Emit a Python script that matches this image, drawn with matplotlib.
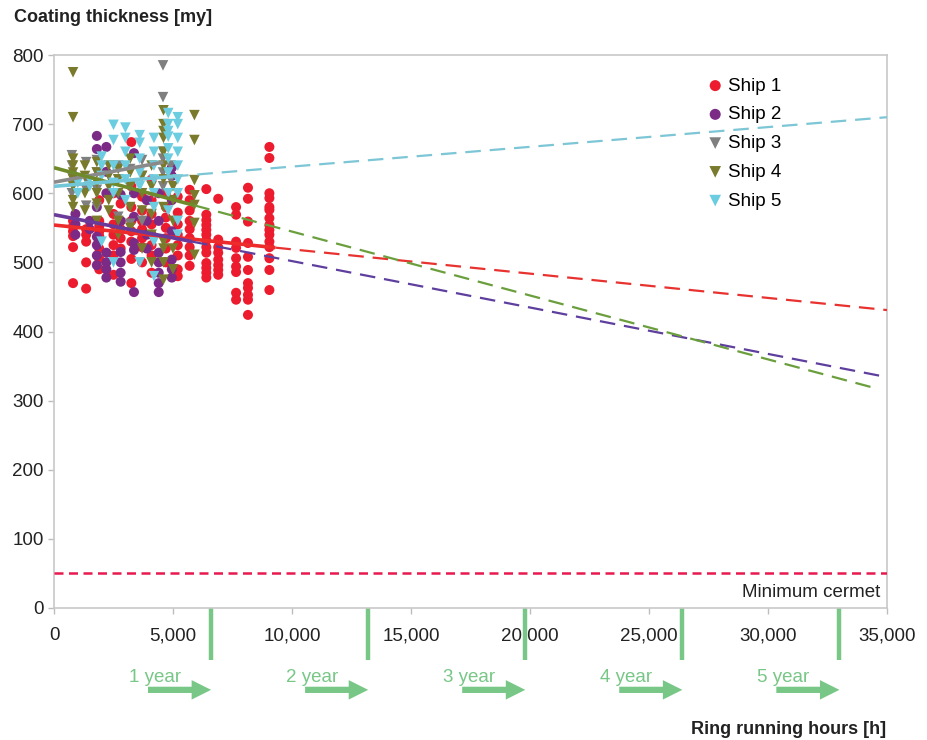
import numpy as np
import matplotlib
matplotlib.use("Agg")
import matplotlib.pyplot as plt
import matplotlib.transforms as mtransforms
from matplotlib.ticker import FuncFormatter

plt.rcParams['font.family'] = ['Liberation Sans', 'DejaVu Sans']

# ---- data ----
ship1_hours = ([800] * 6 + [1350] * 5 + [1900] * 8 + [2500] * 7 + [2800] * 5
               + [3250] * 8 + [3700] * 7 + [4100] * 8 + [4700] * 7 + [5200] * 8
               + [5700] * 9 + [6400] * 13 + [6900] * 8 + [7650] * 9 + [8150] * 11
               + [9050] * 15)
ship1_thick = ([560, 552, 545, 538, 522, 470]
               + [548, 540, 530, 500, 462]
               + [590, 560, 552, 545, 538, 520, 505, 490]
               + [600, 570, 555, 540, 525, 510, 482]
               + [585, 560, 548, 535, 520]
               + [674, 610, 580, 560, 545, 530, 505, 470]
               + [595, 575, 560, 548, 535, 522, 500]
               + [620, 590, 570, 555, 540, 525, 510, 485]
               + [600, 580, 565, 550, 535, 520, 500]
               + [595, 572, 555, 540, 525, 510, 490, 480]
               + [605, 590, 575, 560, 548, 535, 522, 510, 495]
               + [606, 569, 561, 554, 547, 540, 532, 522, 514, 499, 492, 485, 478]
               + [592, 533, 522, 514, 504, 496, 489, 482]
               + [580, 569, 530, 521, 506, 494, 486, 456, 446]
               + [608, 592, 559, 528, 508, 489, 470, 463, 453, 446, 424]
               + [667, 651, 600, 593, 580, 576, 564, 554, 547, 540, 530, 522, 506, 489, 460])

ship2_hours = ([900] * 3 + [1500] * 2 + [1800] * 7 + [2200] * 7 + [2800] * 6
               + [3360] * 6 + [3900] * 4 + [4400] * 7 + [4950] * 7)
ship2_thick = ([570, 555, 540]
               + [560, 548]
               + [683, 664, 580, 537, 525, 510, 496]
               + [667, 631, 600, 514, 500, 490, 478]
               + [598, 560, 515, 500, 485, 472]
               + [658, 600, 566, 528, 518, 457]
               + [590, 560, 540, 520]
               + [600, 560, 514, 500, 485, 470, 457]
               + [637, 625, 590, 545, 504, 490, 478])

ship3_hours = ([750] * 4 + [1350] * 4 + [1800] * 4 + [2700] * 3 + [3200] * 3
               + [3700] * 3 + [4580] * 6 + [4900] * 2)
ship3_thick = ([655, 640, 624, 600]
               + [645, 620, 605, 582]
               + [648, 630, 605, 580]
               + [640, 620, 566]
               + [635, 610, 556]
               + [648, 625, 560]
               + [785, 739, 660, 650, 630, 610]
               + [640, 620])

ship4_hours = ([800] * 9 + [1300] * 4 + [1800] * 6 + [2300] * 5 + [2700] * 5
               + [3200] * 5 + [3700] * 4 + [4100] * 5 + [4600] * 12 + [5000] * 5
               + [5900] * 7)
ship4_thick = ([775, 710, 650, 640, 630, 620, 610, 590, 580]
               + [640, 625, 600, 575]
               + [645, 630, 615, 600, 585, 560]
               + [640, 625, 610, 590, 575]
               + [635, 620, 600, 560, 540]
               + [650, 630, 610, 580, 550]
               + [625, 600, 575, 520]
               + [640, 610, 570, 540, 500]
               + [720, 700, 690, 680, 660, 640, 620, 580, 530, 520, 500, 475]
               + [610, 590, 560, 520, 490]
               + [713, 677, 619, 597, 583, 557, 511])

ship5_hours = ([1000] * 2 + [1500] * 2 + [2000] * 4 + [2500] * 6 + [3000] * 6
               + [3600] * 6 + [4200] * 8 + [4800] * 9 + [5200] * 9)
ship5_thick = ([615, 600]
               + [620, 610]
               + [653, 640, 625, 530]
               + [699, 677, 640, 615, 600, 500]
               + [695, 680, 660, 640, 620, 590]
               + [684, 673, 650, 630, 610, 500]
               + [680, 660, 640, 620, 600, 580, 530, 480]
               + [716, 700, 690, 682, 665, 650, 630, 600, 575]
               + [710, 700, 680, 660, 640, 620, 600, 560, 540])

# trend lines: value at 0 h, end of solid part, end of dashed part
trend_start = [554, 569, 616, 637, 610]
trend_solid_end = [9300, 5800, 4600, 5900, 5000]
trend_dash_end = [35000, 35000, None, 34400, 35000]
trend_slope = [-123 / 35000, -235 / 35000, 29 / 4600, -318 / 34400, 100 / 35000]

min_cermet = 50
year_hours = [6600, 13200, 19800, 26400, 33000]
year_labels = ["1 year", "2 year", "3 year", "4 year", "5 year"]

ship_labels = ["Ship 1", "Ship 2", "Ship 3", "Ship 4", "Ship 5"]
ship_colors = ["#ec1c2e", "#7b2a86", "#7f7f7f", "#7a7a2c", "#6ccde0"]
ship_markers = ["o", "o", "v", "v", "v"]
ship_sizes = [52, 52, 58, 58, 58]
solid_colors = ["#ee2b2b", "#6a3a9a", "#8a8a8a", "#6f8a2a", "#72c6d8"]
dash_colors = ["#e8322f", "#5e3f9e", None, "#6b9e3d", "#7cc6d6"]
green = "#78c787"

fig = plt.figure(figsize=(9.27, 7.40), dpi=100)
ax = fig.add_axes([54 / 927, 1 - 608 / 740, 833 / 927, 553 / 740])

all_hours = [ship1_hours, ship2_hours, ship3_hours, ship4_hours, ship5_hours]
all_thick = [ship1_thick, ship2_thick, ship3_thick, ship4_thick, ship5_thick]

for i in range(5):
    ax.scatter(all_hours[i], all_thick[i], s=ship_sizes[i], marker=ship_markers[i],
               color=ship_colors[i], edgecolors="none", label=ship_labels[i],
               zorder=2)

for i in range(5):
    a = trend_start[i]
    b = trend_slope[i]
    xs = np.array([0, trend_solid_end[i]])
    ax.plot(xs, a + b * xs, color=solid_colors[i], lw=2.6, zorder=3,
            solid_capstyle="butt")
    if trend_dash_end[i] is not None:
        xd = np.array([trend_solid_end[i], trend_dash_end[i]])
        ax.plot(xd, a + b * xd, color=dash_colors[i], lw=1.6, zorder=3,
                dashes=(7, 4))

ax.axhline(min_cermet, color="#e8194f", lw=1.8, dashes=(3.6, 2.2), zorder=3)
ax.text(34700, 22, "Minimum cermet", ha="right", va="center",
        fontsize=13.5, color="#222222")

ax.set_xlim(0, 35000)
ax.set_ylim(0, 800)
ax.set_xticks(np.arange(0, 35001, 5000))
ax.set_yticks(np.arange(0, 801, 100))
ax.xaxis.set_major_formatter(FuncFormatter(lambda v, p: f"{int(v):,}"))
ax.tick_params(labelsize=13.5, colors="#bdbdbd", labelcolor="#222222",
               length=4, width=1)
ax.tick_params(axis="x", pad=10)
for sp in ax.spines.values():
    sp.set_color("#c8c8c8")
    sp.set_linewidth(1.2)

# year markers below the axis
trans = mtransforms.blended_transform_factory(ax.transData, ax.transAxes)
for yh, lab in zip(year_hours, year_labels):
    ax.plot([yh, yh], [0, -0.094], transform=trans, color=green, lw=3.2,
            clip_on=False, solid_capstyle="butt")
    ax.text(yh - 2350, -0.126, lab, transform=trans, ha="center",
            va="center", fontsize=13.5, color=green)
    ax.annotate("", xy=(yh, -0.148), xytext=(yh - 2650, -0.148),
                xycoords=trans, textcoords=trans,
                arrowprops=dict(arrowstyle="simple,head_length=1.4,head_width=1.4,tail_width=0.45",
                                color=green, lw=0, shrinkA=0, shrinkB=0))

leg = ax.legend(loc="upper left", bbox_to_anchor=(0.760, 0.99), frameon=False,
                fontsize=13.5, handletextpad=0.1, labelspacing=0.62,
                handlelength=1.2, markerscale=1.1)

fig.text(14 / 927, 1 - 18 / 740, "Coating thickness [my]", fontsize=13,
         fontweight="bold", color="#222222", ha="left", va="center")
fig.text(886 / 927, 1 - 729 / 740, "Ring running hours [h]", fontsize=13,
         fontweight="bold", color="#222222", ha="right", va="center")

fig.savefig("out.png", dpi=100)
